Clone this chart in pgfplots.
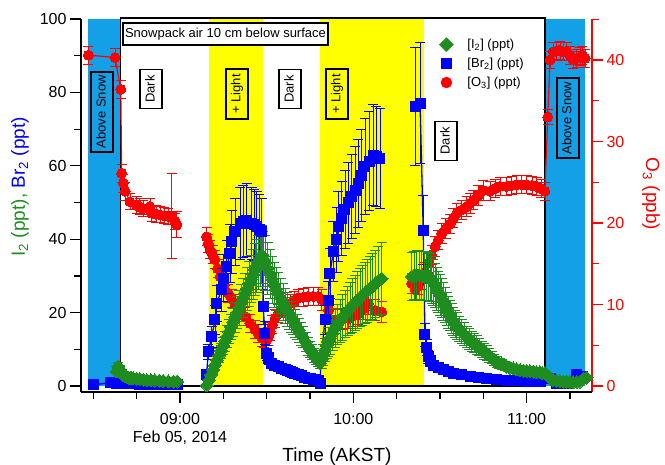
\documentclass[border=0pt]{standalone}
\usepackage{fontspec}
\setmainfont{Liberation Sans}
\usepackage{pgfplots}
\pgfplotsset{compat=1.18}

\definecolor{igreen}{RGB}{30,140,30}
\definecolor{brblue}{RGB}{0,0,255}
\definecolor{ored}{RGB}{255,0,0}
\definecolor{lyel}{RGB}{255,255,0}
\definecolor{skyb}{RGB}{20,160,230}

\pgfplotsset{
  base/.style={width=511pt,height=373pt,scale only axis,
    xmin=-34.27,xmax=142.62,clip=false,tick align=outside,
    /pgf/number format/assume math mode=true,
    ticklabel style={font=\fontsize{16}{17.5}\selectfont},
    major tick length=11pt,minor tick length=7pt},
  errs/.style={/pgfplots/error bars/y dir=both,/pgfplots/error bars/y explicit,
    /pgfplots/error bars/error bar style={line width=0.7pt,#1},
    /pgfplots/error bars/error mark options={rotate=90,mark size=5pt,line width=1pt,#1}},
  br/.style={forget plot,brblue,line width=1.3pt,mark=square*,mark size=5pt,
    mark options={solid,line width=0pt,fill=brblue},errs=brblue},
  i2/.style={forget plot,igreen,line width=1.3pt,mark=square*,mark size=4.6pt,
    mark options={solid,rotate=45,line width=0pt,fill=igreen},errs=igreen},
  o3/.style={forget plot,ored,line width=1.2pt,mark=*,mark size=5pt,
    mark options={solid,line width=0pt,fill=ored},errs=ored},
}
\tikzset{
  tbox/.style={draw=black,line width=1.3pt,font=\fontsize{13}{15}\selectfont,
    inner xsep=2pt,inner ysep=0pt,minimum height=22pt,text height=9.5pt,text depth=2.5pt},
}

\begin{document}
\begin{tikzpicture}
\useasboundingbox (-81pt,-72pt) rectangle (584pt,392pt);

% ---- O3 axis (right) with the shaded periods ----
\begin{axis}[base,ymin=-0.736,ymax=45.03,
  axis x line=none,axis y line*=right,
  y axis line style={ored,line width=1.2pt},
  ytick={0,10,20,30,40},minor ytick={5,15,25,35,45},
  ytick style={ored,line width=1.2pt},
  yticklabel style={ored}]
\addplot[fill=skyb,draw=none,forget plot] coordinates {(-31.74,0) (-31.74,45.03) (-20.53,45.03) (-20.53,0)} -- cycle;
\addplot[fill=skyb,draw=none,forget plot] coordinates {(126.35,0) (126.35,45.03) (140.19,45.03) (140.19,0)} -- cycle;
\addplot[fill=lyel,draw=none,forget plot] coordinates {(10.14,0) (10.14,45.03) (28.73,45.03) (28.73,0)} -- cycle;
\addplot[fill=lyel,draw=none,forget plot] coordinates {(48.46,0) (48.46,45.03) (84.57,45.03) (84.57,0)} -- cycle;
\addplot[black,line width=1.3pt,forget plot] coordinates {(-20.53,0) (-20.53,45.15) (126.35,45.15) (126.35,0)} -- cycle;

\addplot[o3] coordinates {
(-31.7,40.6) +- (0,1.1) (-22.5,40.3) +- (0,1.1) (-20.5,36.4) +- (0,1.1)
(-20.2,26.1) +- (0,1.1) (-19.6,24.9) +- (0,1.1) (-19.0,23.9) +- (0,1.1)
(-17.3,22.6) +- (0,1.0) (-15.0,22.2) +- (0,1.0) (-14.0,22.0) +- (0,1.0)
(-12.7,21.8) +- (0,1.0) (-10.4,22.0) +- (0,1.0) (-9.8,21.2) +- (0,1.0)
(-8.3,21.1) +- (0,1.0) (-6.9,21.0) +- (0,1.0) (-5.5,20.9) +- (0,1.0)
(-4.1,20.8) +- (0,1.0) (-2.9,20.9) +- (0,5.2) (-1.7,20.2) +- (0,1.0)
(-1.1,19.8) +- (0,1.6)};
\addplot[o3] coordinates {
(9.2,18.3) +- (0,1.1) (9.8,17.5) +- (0,1.1) (10.4,16.7) +- (0,1.1)
(11.3,16.1) +- (0,1.1) (12.1,15.5) +- (0,1.1) (13.0,14.4) +- (0,1.1)
(13.9,13.4) +- (0,1.1) (15.3,12.4) +- (0,1.1) (16.7,11.4) +- (0,1.1)
(17.9,10.7) +- (0,1.1) (19.0,10.1) +- (0,1.1) (20.8,9.3) +- (0,1.1)
(22.5,8.5) +- (0,1.1) (24.2,7.7) +- (0,1.1) (26.0,6.9) +- (0,1.1)
(27.1,6.4) +- (0,1.1) (28.3,6.0) +- (0,1.1) (29.1,5.8) +- (0,1.1)
(30.0,5.6) +- (0,1.1) (30.6,6.1) +- (0,1.1) (31.2,6.7) +- (0,1.1)
(32.0,7.5) +- (0,1.1) (32.9,8.3) +- (0,1.1) (34.0,8.9) +- (0,1.1)
(35.2,9.5) +- (0,1.1) (36.6,9.8) +- (0,1.1) (38.1,10.1) +- (0,1.1)
(39.5,10.5) +- (0,1.1) (41.0,10.8) +- (0,1.1) (42.7,10.9) +- (0,1.1)
(44.4,11.0) +- (0,1.1) (46.1,11.0) +- (0,1.1) (47.9,11.0) +- (0,1.1)
(49.1,10.6) +- (0,1.3) (51.4,9.3) +- (0,1.3) (53.7,8.1) +- (0,1.3)
(56.0,8.2) +- (0,1.3) (58.3,8.3) +- (0,1.3) (60.0,8.6) +- (0,1.3)
(61.7,8.9) +- (0,1.3) (63.4,9.5) +- (0,1.3) (65.2,10.1) +- (0,1.3)
(67.5,9.3) +- (0,1.3) (69.8,9.1) +- (0,1.3)};
\addplot[o3] coordinates {
(80.2,12.6) +- (0,1.2) (81.4,11.8) +- (0,1.2) (82.5,12.4) +- (0,1.2)
(83.7,13.0) +- (0,1.2) (84.8,14.0) +- (0,1.2) (86.0,15.1) +- (0,1.2)
(87.1,16.1) +- (0,1.2) (88.3,17.1) +- (0,1.2) (89.4,17.9) +- (0,1.2)
(90.6,18.7) +- (0,1.2) (92.0,19.3) +- (0,1.2) (93.5,19.9) +- (0,1.2)
(94.6,20.6) +- (0,1.2) (95.8,21.2) +- (0,1.2) (97.5,21.6) +- (0,1.2)
(99.2,22.0) +- (0,1.2) (100.4,22.4) +- (0,1.2) (101.5,22.8) +- (0,1.2)
(103.2,23.4) +- (0,1.2) (105.0,24.0) +- (0,1.2) (107.3,23.9) +- (0,1.2)
(109.0,24.2) +- (0,1.1) (110.8,24.5) +- (0,1.1) (113.1,24.5) +- (0,1.1)
(114.8,24.6) +- (0,1.1) (116.6,24.7) +- (0,1.1) (118.3,24.7) +- (0,1.1)
(120.0,24.7) +- (0,1.1) (121.8,24.6) +- (0,1.1) (123.5,24.5) +- (0,1.1)
(125.0,24.2) +- (0,1.1) (126.3,23.9) +- (0,1.1) (127.3,33.0) +- (0,0.9)
(128.1,40.0) +- (0,1.1) (129.2,41.0) +- (0,1.1) (130.3,41.1) +- (0,1.1)
(131.5,41.2) +- (0,1.1) (132.7,41.0) +- (0,1.1) (133.9,41.0) +- (0,1.1)
(135.0,40.6) +- (0,1.1) (136.1,40.0) +- (0,1.1) (137.3,40.2) +- (0,1.1)
(138.5,40.4) +- (0,1.1) (139.3,40.6) +- (0,1.1) (140.2,40.2) +- (0,1.1)};

\node[ored,font=\fontsize{19}{22}\selectfont,xshift=59pt,rotate=-90] at (rel axis cs:1,0.531) {O\textsubscript{3} (ppb)};
\end{axis}

% ---- I2 / Br2 axis (left) ----
\begin{axis}[base,ymin=-1.635,ymax=100,
  axis x line*=bottom,axis y line*=left,
  axis line style={black,line width=1.2pt},
  tick style={black,line width=1.2pt},
  xtick={0,60,120},xticklabels={{09:00\\Feb 05, 2014},10:00,11:00},
  minor xtick={-30,-15,15,30,45,75,90,105,135},
  xticklabel style={align=center,yshift=-7pt},
  ytick={0,20,...,100},minor ytick={10,30,50,70,90},
  legend style={at={(0.695,0.957)},anchor=north west,draw=none,fill=none,
    font=\fontsize{13}{15}\selectfont,nodes={inner sep=2pt},row sep=4pt,
    /tikz/every odd column/.append style={column sep=12pt}},
  legend cell align=left]
\addlegendimage{only marks,mark=square*,igreen,mark size=5pt,mark options={rotate=45}}
\addlegendentry{[I\textsubscript{2}] (ppt)}
\addlegendimage{only marks,mark=square*,brblue,mark size=5pt}
\addlegendentry{[Br\textsubscript{2}] (ppt)}
\addlegendimage{only marks,mark=*,ored,mark size=5.5pt}
\addlegendentry{[O\textsubscript{3}] (ppt)}

% Br2
\addplot[br] coordinates {
(-30.0,0.3) +- (0,0.2) (-24.2,0.9) +- (0,0.3) (-23.0,0.85) +- (0,0.3)
(-21.9,0.8) +- (0,0.3) (-20.8,0.75) +- (0,0.3) (-19.6,0.7) +- (0,0.3)
(-18.5,0.65) +- (0,0.3) (-17.3,0.6) +- (0,0.3) (-15.6,0.55) +- (0,0.3)
(-13.9,0.5) +- (0,0.3) (-12.1,0.5) +- (0,0.3) (-10.4,0.5) +- (0,0.3)
(-8.7,0.45) +- (0,0.3) (-6.9,0.4) +- (0,0.3) (-5.2,0.4) +- (0,0.3)
(-3.5,0.4) +- (0,0.3) (-2.1,0.4) +- (0,0.3) (-0.7,0.4) +- (0,0.3)};
\addplot[br] coordinates {
(9.2,3.0) +- (0,0.7) (9.8,9.3) +- (0,2.0) (11.0,13.4) +- (0,2.9)
(12.1,18.0) +- (0,4.0) (12.7,22.5) +- (0,5.0) (14.4,26.2) +- (0,5.8)
(15.0,29.3) +- (0,6.4) (16.2,32.5) +- (0,7.2) (17.3,36.1) +- (0,7.9)
(17.9,39.3) +- (0,8.6) (19.0,42.0) +- (0,9.2) (20.8,44.3) +- (0,9.7)
(21.9,44.8) +- (0,9.8) (23.1,45.2) +- (0,9.9) (24.8,44.3) +- (0,9.7)
(25.7,43.9) +- (0,9.6) (26.6,43.4) +- (0,9.5) (27.4,42.7) +- (0,9.4)
(28.3,42.0) +- (0,9.2) (28.8,21.6) +- (0,4.8) (29.4,14.4) +- (0,3.2)
(30.0,8.9) +- (0,2.0) (30.8,7.4) +- (0,1.6) (31.7,6.2) +- (0,1.4)
(32.8,5.7) +- (0,1.3) (34.0,5.3) +- (0,1.2) (35.2,4.8) +- (0,1.1)
(36.4,4.4) +- (0,1.0) (37.2,4.1) +- (0,0.9) (38.1,3.9) +- (0,0.9)
(38.9,3.7) +- (0,0.8) (39.8,3.5) +- (0,0.8) (40.9,3.1) +- (0,0.7)
(42.0,2.8) +- (0,0.6) (43.2,2.4) +- (0,0.5) (44.4,2.1) +- (0,0.5)
(45.3,1.95) +- (0,0.4) (46.2,1.8) +- (0,0.4) (47.0,1.7) +- (0,0.4)
(47.9,1.6) +- (0,0.4) (48.5,0.7) +- (0,0.3) (48.8,7.1) +- (0,1.6)
(50.2,18.0) +- (0,4.0) (51.3,23.4) +- (0,5.1) (51.9,30.7) +- (0,6.8)
(53.1,36.6) +- (0,8.1) (54.2,39.8) +- (0,8.8) (54.8,43.4) +- (0,9.5)
(56.0,45.7) +- (0,10.1) (57.1,48.0) +- (0,10.6) (58.3,49.9) +- (0,11.0)
(59.4,51.6) +- (0,11.4) (60.6,53.4) +- (0,11.8) (61.7,55.2) +- (0,12.1)
(62.8,57.4) +- (0,12.6) (64.0,59.7) +- (0,13.1) (65.5,61.3) +- (0,13.5)
(66.9,62.9) +- (0,13.8) (68.0,62.5) +- (0,13.7) (69.2,62.0) +- (0,13.6)};
\addplot[br] coordinates {
(81.4,76.1) +- (0,16.0) (83.1,77.0) +- (0,16.5) (84.2,42.5) +- (0,9.4)
(84.8,13.9) +- (0,3.1) (85.4,10.5) +- (0,2.3) (86.0,8.0) +- (0,1.8)
(86.8,6.8) +- (0,1.5) (87.7,5.7) +- (0,1.3) (89.4,5.0) +- (0,1.1)
(91.1,4.4) +- (0,1.0) (92.9,3.9) +- (0,0.9) (94.6,3.5) +- (0,0.8)
(97.5,3.0) +- (0,0.7) (100.4,2.5) +- (0,0.6) (103.3,2.3) +- (0,0.5)
(106.2,2.1) +- (0,0.5) (109.6,1.85) +- (0,0.4) (113.1,1.6) +- (0,0.4)
(116.5,1.4) +- (0,0.3) (120.0,1.2) +- (0,0.3) (122.3,1.2) +- (0,0.3)
(124.6,1.2) +- (0,0.3) (128.1,2.0) +- (0,0.4) (130.2,0.8) +- (0,0.3)
(133.9,0.8) +- (0,0.3) (137.3,3.0) +- (0,0.7) (139.5,2.5) +- (0,0.6)};

% I2
\addplot[i2] coordinates {
(-21.9,4.0) +- (0,0.9) (-21.4,5.3) +- (0,1.2) (-20.8,4.5) +- (0,1.0)
(-20.2,3.5) +- (0,0.8) (-19.6,3.0) +- (0,0.7) (-19.0,2.7) +- (0,0.6)
(-18.5,2.5) +- (0,0.6) (-17.9,2.3) +- (0,0.5) (-17.3,2.2) +- (0,0.5)
(-16.7,2.1) +- (0,0.5) (-16.2,2.1) +- (0,0.5) (-15.0,2.0) +- (0,0.4)
(-13.9,1.9) +- (0,0.4) (-12.7,1.7) +- (0,0.4) (-11.5,1.6) +- (0,0.4)
(-10.1,1.55) +- (0,0.3) (-8.7,1.5) +- (0,0.3) (-7.2,1.45) +- (0,0.3)
(-5.8,1.4) +- (0,0.3) (-4.0,1.3) +- (0,0.3) (-2.3,1.2) +- (0,0.3)
(-1.0,1.2) +- (0,0.3)};
\addplot[i2] coordinates {
(9.2,0.2) +- (0,0.1) (10.0,1.6) +- (0,0.4) (10.7,3.0) +- (0,0.7)
(11.4,4.3) +- (0,1.0) (12.1,5.7) +- (0,1.3) (12.8,7.0) +- (0,1.5)
(13.5,8.3) +- (0,1.8) (14.2,9.6) +- (0,2.1) (14.9,10.9) +- (0,2.4)
(15.6,12.2) +- (0,2.7) (16.3,13.5) +- (0,3.0) (17.0,14.8) +- (0,3.3)
(17.7,16.1) +- (0,3.5) (18.4,17.4) +- (0,3.8) (19.0,18.7) +- (0,4.1)
(19.7,20.0) +- (0,4.4) (20.4,21.3) +- (0,4.7) (21.1,22.6) +- (0,5.0)
(21.8,23.9) +- (0,5.3) (22.5,25.2) +- (0,5.5) (23.2,26.5) +- (0,5.8)
(23.9,27.8) +- (0,6.1) (24.6,29.1) +- (0,6.4) (25.3,30.4) +- (0,6.7)
(26.0,31.7) +- (0,7.0) (26.5,32.7) +- (0,7.2) (27.0,33.7) +- (0,7.4)
(27.7,34.7) +- (0,7.6) (28.3,35.7) +- (0,7.9) (28.9,34.6) +- (0,7.6)
(29.4,33.5) +- (0,7.4) (30.3,32.0) +- (0,7.0) (31.2,30.5) +- (0,6.7)
(31.9,29.0) +- (0,6.4) (32.5,27.5) +- (0,6.1) (33.3,26.4) +- (0,5.8)
(34.0,25.3) +- (0,5.6) (34.9,24.0) +- (0,5.3) (35.7,22.8) +- (0,5.0)
(36.4,21.8) +- (0,4.8) (37.0,20.8) +- (0,4.6) (37.7,19.8) +- (0,4.4)
(38.4,18.9) +- (0,4.2) (39.1,18.0) +- (0,4.0) (39.8,17.1) +- (0,3.8)
(40.5,16.1) +- (0,3.5) (41.2,15.2) +- (0,3.3) (41.9,14.2) +- (0,3.1)
(42.6,13.3) +- (0,2.9) (43.5,12.0) +- (0,2.6) (44.4,10.7) +- (0,2.4)
(45.1,9.9) +- (0,2.2) (45.7,9.2) +- (0,2.0) (46.4,8.3) +- (0,1.8)
(47.1,7.5) +- (0,1.7) (47.8,6.8) +- (0,1.5) (48.5,6.2) +- (0,1.4)
(49.0,7.3) +- (0,2.4) (49.6,8.5) +- (0,2.8) (50.2,9.8) +- (0,3.2)
(50.8,11.0) +- (0,3.6) (51.3,12.0) +- (0,4.0) (51.9,13.0) +- (0,4.3)
(52.8,14.4) +- (0,4.8) (53.7,15.8) +- (0,5.2) (54.5,16.8) +- (0,5.5)
(55.4,17.8) +- (0,5.9) (56.2,18.7) +- (0,6.2) (57.1,19.6) +- (0,6.5)
(58.0,20.4) +- (0,6.7) (58.9,21.2) +- (0,7.0) (59.7,22.0) +- (0,7.3)
(60.6,22.7) +- (0,7.5) (61.4,23.4) +- (0,7.7) (62.3,24.0) +- (0,7.9)
(63.1,24.7) +- (0,8.1) (64.0,25.3) +- (0,8.3) (64.9,26.0) +- (0,8.6)
(65.8,26.6) +- (0,8.8) (66.6,27.2) +- (0,9.0) (67.5,27.8) +- (0,9.2)
(68.6,28.6) +- (0,9.4) (69.8,29.3) +- (0,9.7)};
\addplot[i2] coordinates {
(80.2,29.8) +- (0,6.6) (81.0,30.1) +- (0,6.6) (81.9,30.3) +- (0,6.7)
(82.8,30.2) +- (0,6.6) (83.7,30.0) +- (0,6.6) (84.5,30.0) +- (0,6.6)
(85.4,30.0) +- (0,6.6) (86.0,29.8) +- (0,6.5) (86.5,29.6) +- (0,6.5)
(87.1,28.9) +- (0,6.4) (87.7,28.2) +- (0,6.2) (88.3,27.4) +- (0,6.0)
(88.9,26.5) +- (0,5.8) (89.4,25.6) +- (0,5.6) (90.0,24.8) +- (0,5.5)
(90.6,23.9) +- (0,5.3) (91.1,23.0) +- (0,5.1) (91.7,22.0) +- (0,4.8)
(92.3,21.0) +- (0,4.6) (92.9,20.1) +- (0,4.4) (93.5,19.2) +- (0,4.2)
(94.0,18.4) +- (0,4.0) (94.6,17.6) +- (0,3.9) (95.2,16.9) +- (0,3.7)
(95.8,16.3) +- (0,3.6) (96.6,15.5) +- (0,3.4) (97.5,14.8) +- (0,3.3)
(98.3,14.1) +- (0,3.1) (99.2,13.4) +- (0,2.9) (100.1,12.8) +- (0,2.8)
(101.0,12.2) +- (0,2.7) (101.8,11.7) +- (0,2.6) (102.7,11.2) +- (0,2.5)
(103.5,10.6) +- (0,2.3) (104.4,10.0) +- (0,2.2) (105.3,9.4) +- (0,2.1)
(106.2,8.9) +- (0,2.0) (107.0,8.3) +- (0,1.8) (107.9,7.7) +- (0,1.7)
(108.7,7.1) +- (0,1.6) (109.6,6.6) +- (0,1.5) (110.5,6.2) +- (0,1.4)
(111.4,5.9) +- (0,1.3) (112.2,5.6) +- (0,1.2) (113.1,5.3) +- (0,1.2)
(114.2,5.0) +- (0,1.1) (115.4,4.8) +- (0,1.1) (116.5,4.6) +- (0,1.0)
(117.7,4.4) +- (0,1.0) (118.8,4.2) +- (0,0.9) (120.0,4.1) +- (0,0.9)
(121.1,4.0) +- (0,0.9) (122.3,3.9) +- (0,0.9) (123.4,3.8) +- (0,0.8)
(124.6,3.7) +- (0,0.8) (125.4,3.6) +- (0,0.8) (126.3,3.5) +- (0,0.8)
(127.0,3.0) +- (0,0.7) (127.7,2.5) +- (0,0.6) (128.4,2.0) +- (0,0.5)
(129.2,1.6) +- (0,0.4) (130.3,1.4) +- (0,0.3) (131.5,1.3) +- (0,0.3)
(132.7,1.2) +- (0,0.3) (133.9,1.2) +- (0,0.3) (135.0,1.1) +- (0,0.3)
(136.1,1.0) +- (0,0.3) (137.3,1.1) +- (0,0.3) (138.5,1.2) +- (0,0.3)
(139.6,2.0) +- (0,0.4) (140.8,2.3) +- (0,0.5)};

% annotation boxes
\node[tbox,fill=white,minimum width=205pt] at (axis cs:15.75,95.9) {Snowpack air 10 cm below surface};
\node[tbox,rotate=90,minimum width=80pt] at (axis cs:-27.0,74.7) {Above Snow};
\node[tbox,rotate=90,minimum width=80pt] at (axis cs:134.3,73.0) {Above Snow};
\node[tbox,rotate=90,minimum width=39pt] at (axis cs:-10.0,80.9) {Dark};
\node[tbox,rotate=90,minimum width=50pt] at (axis cs:19.7,79.6) {+ Light};
\node[tbox,rotate=90,minimum width=39pt] at (axis cs:38.1,80.9) {Dark};
\node[tbox,rotate=90,minimum width=50pt] at (axis cs:54.3,79.6) {+ Light};
\node[tbox,rotate=90,minimum width=39pt] at (axis cs:92.1,66.8) {Dark};

% axis titles
\node[font=\fontsize{19}{22}\selectfont,xshift=-61pt,rotate=90] at (rel axis cs:0,0.55)
  {\textcolor{igreen}{I\textsubscript{2} (ppt),} \textcolor{brblue}{Br\textsubscript{2} (ppt)}};
\node[font=\fontsize{19}{22}\selectfont,anchor=base,yshift=-69pt] at (rel axis cs:0.501,0) {Time (AKST)};
\end{axis}
\end{tikzpicture}
\end{document}
